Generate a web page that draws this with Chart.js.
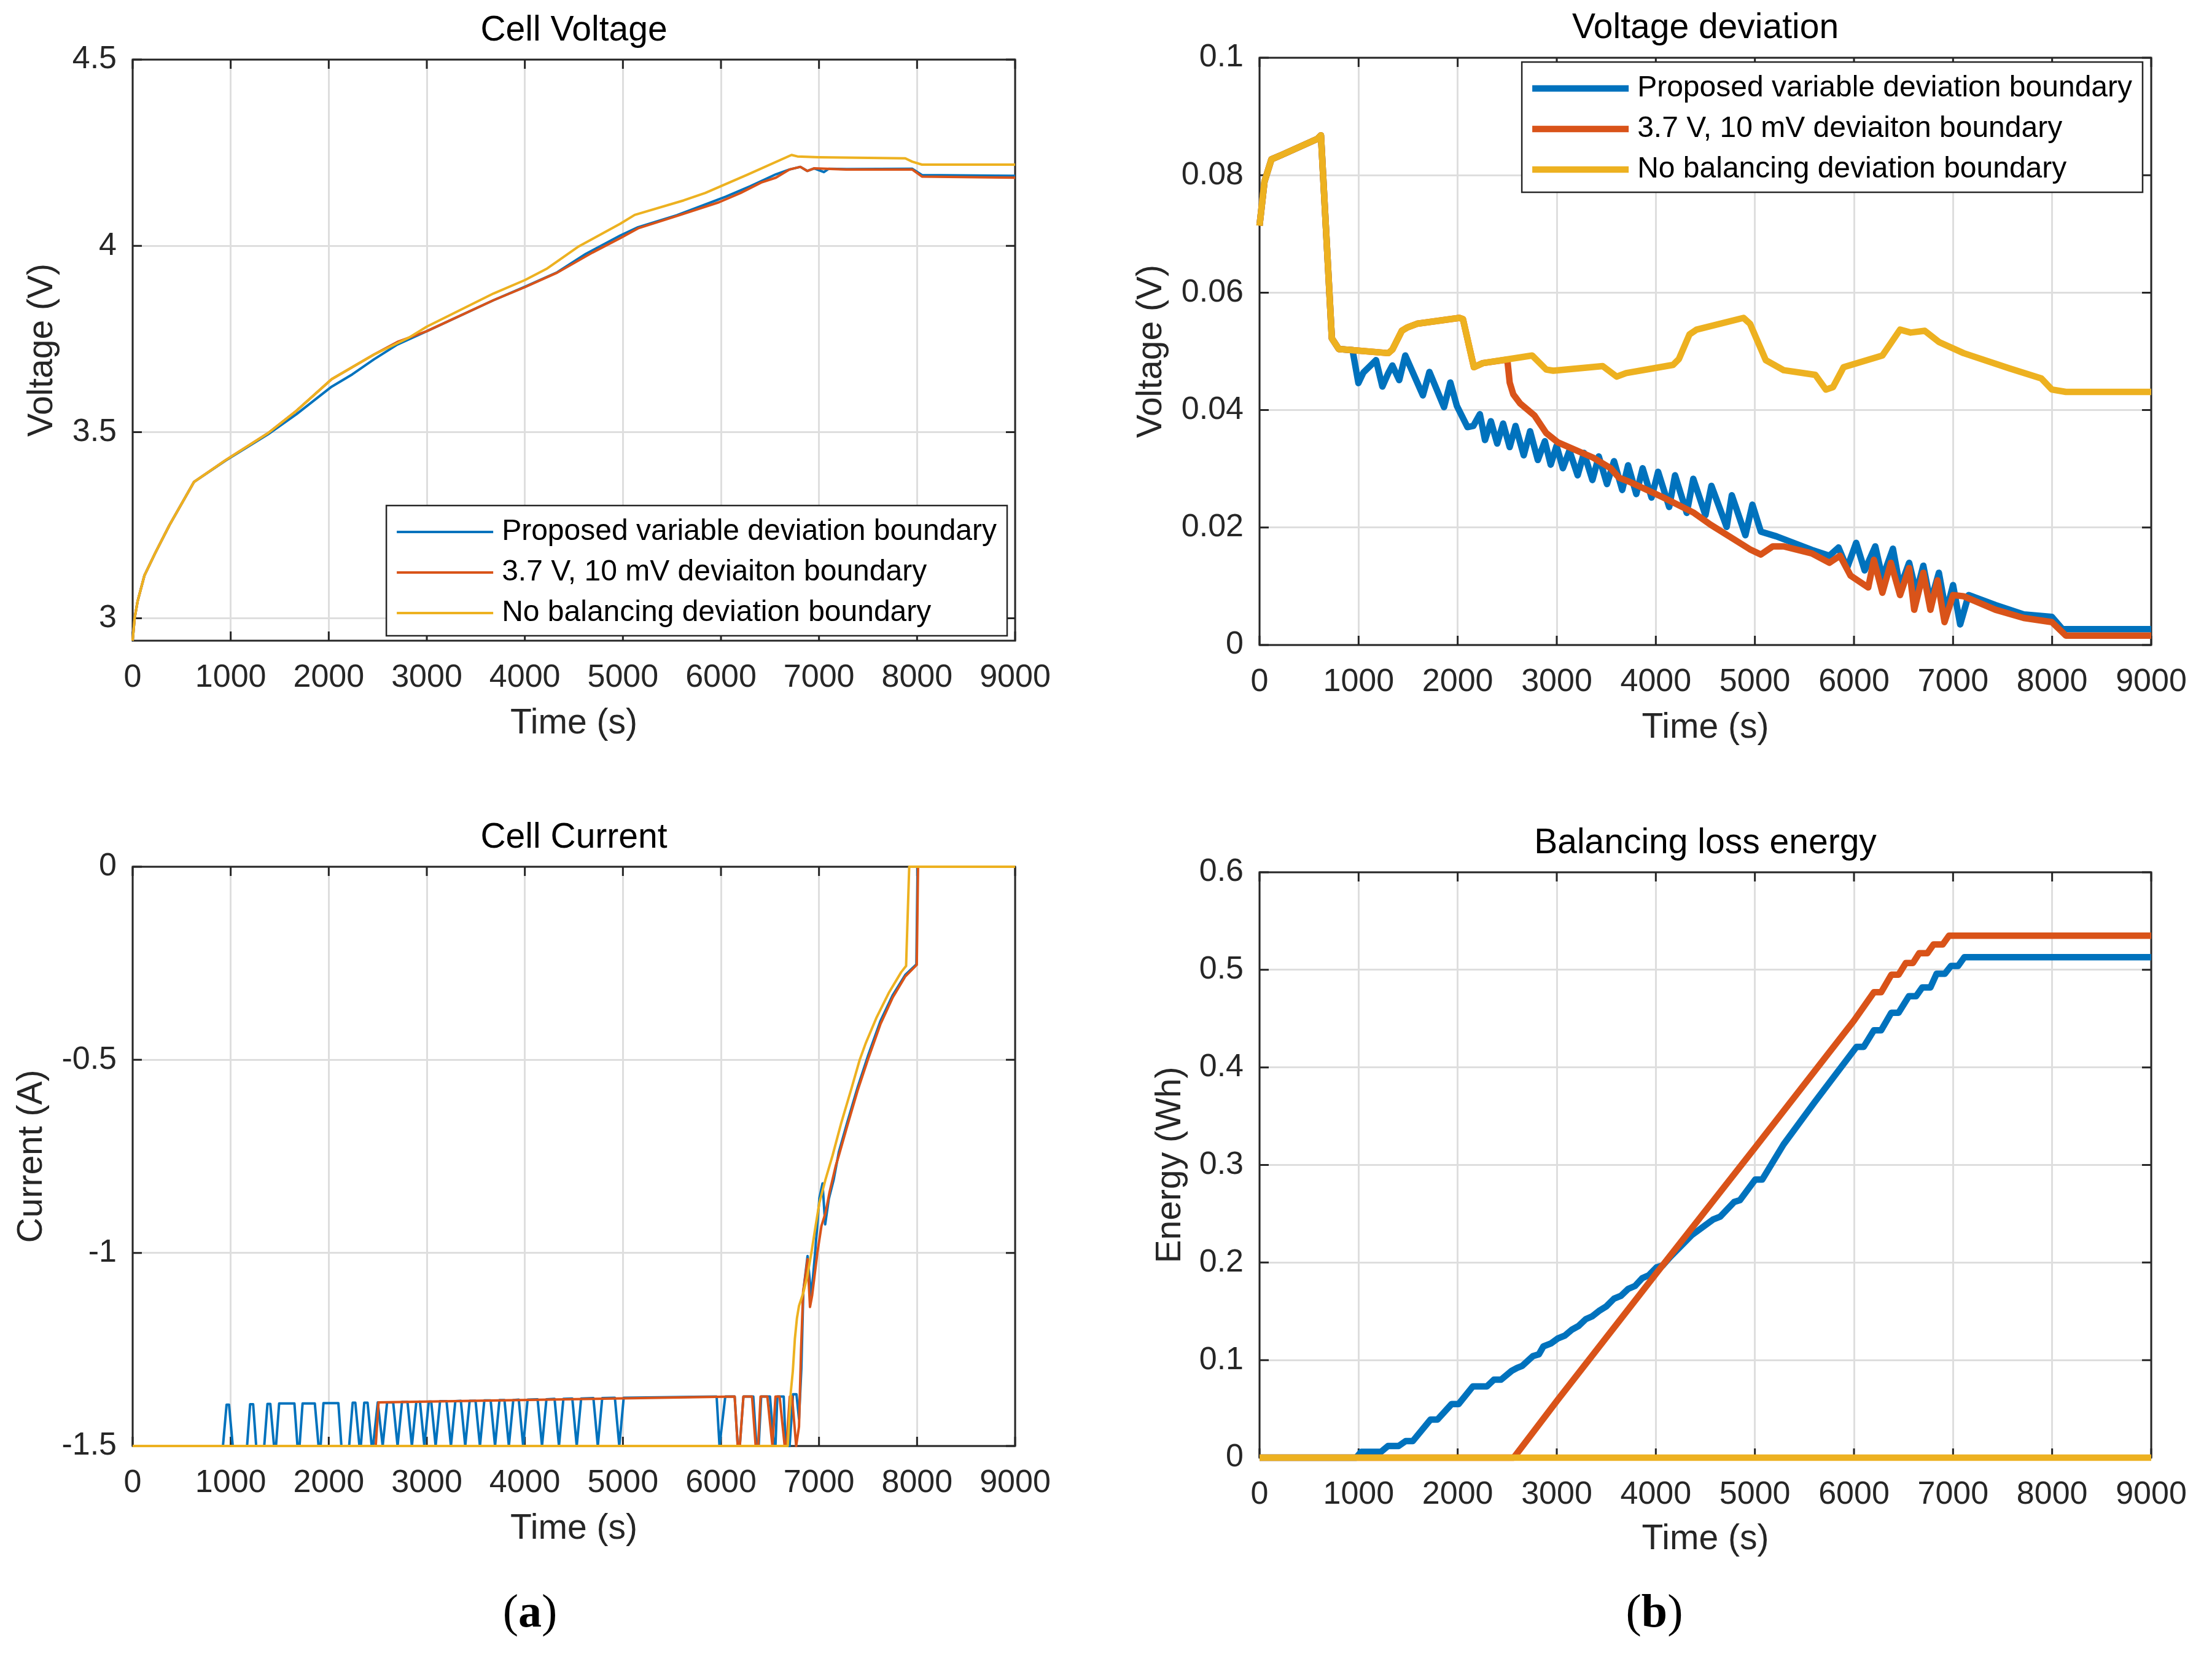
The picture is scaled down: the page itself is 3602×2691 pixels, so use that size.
<!DOCTYPE html>
<html>
<head>
<meta charset="utf-8">
<title>Balancing results</title>
<script src="https://cdn.jsdelivr.net/npm/chart.js@4.4.1/dist/chart.umd.min.js"></script>
<style>
  html, body { margin: 0; padding: 0; background: #fff; }
  #page { position: relative; width: 3602px; height: 2691px; overflow: hidden; }
  canvas { position: absolute; }
  .cap { position: absolute; font-family: 'Liberation Serif', 'DejaVu Serif', serif; font-size: 76px;
         line-height: 1; color: #000; transform: translate(-50%, -50%); }
</style>
</head>
<body>
<div id="page">
  <div class="cap" style="left:863px;top:2622px">(<b>a</b>)</div>
  <div class="cap" style="left:2694px;top:2622px">(<b>b</b>)</div>
</div>
<script>
// ---- shared ticks ----
const timeTicks = [0, 1000, 2000, 3000, 4000, 5000, 6000, 7000, 8000, 9000];
const timeTickLabels = ['0', '1000', '2000', '3000', '4000', '5000', '6000', '7000', '8000', '9000'];
const seriesLabels = ['Proposed variable deviation boundary', '3.7 V, 10 mV deviaiton boundary', 'No balancing deviation boundary'];

// ---- Cell Voltage (V) ----
const cvTicks = [3, 3.5, 4, 4.5];
const cvTickLabels = ['3', '3.5', '4', '4.5'];
const cvNoBalT = [0, 20, 50, 120, 230, 375, 625, 950, 1380, 1670, 2030, 2460, 2820, 3000, 3680, 4000, 4220, 4540, 4970, 5120, 5620, 5840, 6270, 6720, 6780, 7000, 7880, 7950, 8050, 9000];
const cvNoBalV = [2.94, 3.0, 3.045, 3.115, 3.175, 3.25, 3.366, 3.425, 3.497, 3.557, 3.642, 3.708, 3.754, 3.783, 3.872, 3.908, 3.938, 3.997, 4.059, 4.083, 4.122, 4.142, 4.191, 4.244, 4.240, 4.238, 4.235, 4.226, 4.218, 4.218];
const cvRefT = [2460, 2700, 3000, 3680, 4000, 4330, 4690, 4975, 5155, 5550, 5980, 6200, 6410, 6560, 6700, 6810, 6880, 6950, 7280, 7950, 8050, 9000];
const cvRefV = [3.708, 3.742, 3.771, 3.854, 3.889, 3.928, 3.982, 4.021, 4.047, 4.080, 4.117, 4.142, 4.170, 4.183, 4.205, 4.212, 4.201, 4.208, 4.205, 4.205, 4.186, 4.183];
const cvPropT = [950, 1380, 1670, 2030, 2240, 2460, 2700, 3000, 3680, 4000, 4330, 4620, 4975, 5155, 5550, 6050, 6300, 6560, 6700, 6810, 6880, 6950, 7050, 7100, 7280, 7950, 8050, 9000];
const cvPropV = [3.424, 3.494, 3.548, 3.622, 3.655, 3.695, 3.735, 3.771, 3.854, 3.890, 3.929, 3.978, 4.028, 4.050, 4.082, 4.132, 4.160, 4.192, 4.205, 4.212, 4.201, 4.208, 4.198, 4.207, 4.206, 4.207, 4.190, 4.188];

// ---- Voltage deviation (V) ----
const dvTicks = [0, 0.02, 0.04, 0.06, 0.08, 0.1];
const dvTickLabels = ['0', '0.02', '0.04', '0.06', '0.08', '0.1'];
const dvNoBalT = [0, 50, 120, 230, 585, 620, 730, 800, 940, 1300, 1341, 1436, 1495, 1590, 2017, 2053, 2164, 2254, 2752, 2894, 2965, 3463, 3605, 3700, 4174, 4233, 4340, 4411, 4885, 4951, 5110, 5290, 5610, 5716, 5788, 5895, 6287, 6465, 6572, 6715, 6857, 7106, 7570, 7890, 7997, 8139, 9000];
const dvNoBalV = [0.0714, 0.0789, 0.0827, 0.0835, 0.0862, 0.0868, 0.0522, 0.0504, 0.0502, 0.0497, 0.0503, 0.0535, 0.0541, 0.0547, 0.0557, 0.0555, 0.0473, 0.048, 0.0493, 0.0469, 0.0467, 0.0475, 0.0457, 0.0463, 0.0477, 0.0487, 0.0529, 0.0537, 0.0557, 0.0547, 0.0485, 0.0468, 0.046, 0.0435, 0.0439, 0.0473, 0.0493, 0.0537, 0.0532, 0.0535, 0.0516, 0.0497, 0.0471, 0.0454, 0.0435, 0.0431, 0.0431];
const dvPropT = [941, 998, 1048, 1176, 1240, 1297, 1341, 1410, 1471, 1649, 1715, 1862, 1926, 1992, 2099, 2158, 2224, 2276, 2335, 2399, 2459, 2525, 2584, 2667, 2731, 2809, 2880, 2939, 2998, 3062, 3128, 3211, 3275, 3360, 3424, 3507, 3578, 3661, 3720, 3803, 3867, 3957, 4023, 4135, 4194, 4312, 4378, 4501, 4561, 4715, 4767, 4904, 4975, 5060, 5217, 5574, 5752, 5844, 5930, 6022, 6108, 6215, 6287, 6393, 6465, 6557, 6629, 6700, 6772, 6857, 6929, 7000, 7072, 7157, 7428, 7713, 7997, 8104, 9000];
const dvPropV = [0.05, 0.0446, 0.0464, 0.0485, 0.044, 0.0462, 0.0476, 0.0451, 0.0493, 0.0425, 0.0465, 0.0405, 0.0447, 0.0407, 0.0371, 0.0373, 0.0393, 0.0349, 0.0381, 0.0343, 0.0377, 0.0337, 0.0373, 0.0323, 0.0364, 0.0315, 0.0347, 0.0307, 0.0339, 0.0301, 0.0331, 0.0289, 0.0327, 0.0281, 0.0321, 0.0274, 0.0313, 0.0264, 0.0306, 0.0257, 0.0301, 0.0251, 0.0295, 0.0235, 0.0289, 0.0225, 0.0283, 0.0221, 0.0271, 0.0201, 0.0255, 0.0187, 0.0239, 0.0193, 0.0185, 0.0162, 0.0152, 0.0166, 0.0131, 0.0174, 0.0127, 0.0168, 0.0114, 0.0164, 0.0098, 0.014, 0.0089, 0.0135, 0.0073, 0.0123, 0.0056, 0.0102, 0.0035, 0.0085, 0.0068, 0.0052, 0.0048, 0.0027, 0.0027];
const dvRefT = [2501, 2525, 2561, 2632, 2774, 2893, 3011, 3367, 3544, 3627, 3746, 4077, 4385, 4551, 4949, 5060, 5181, 5289, 5574, 5752, 5859, 5966, 6144, 6201, 6287, 6372, 6465, 6557, 6608, 6700, 6772, 6843, 6914, 7000, 7106, 7428, 7713, 7997, 8139, 9000];
const dvRefV = [0.0486, 0.0447, 0.0427, 0.0411, 0.0391, 0.0361, 0.0345, 0.0319, 0.0301, 0.0285, 0.0277, 0.0251, 0.0225, 0.0205, 0.0163, 0.0154, 0.0168, 0.0168, 0.0156, 0.014, 0.0152, 0.0118, 0.0098, 0.0145, 0.0089, 0.014, 0.0085, 0.0131, 0.006, 0.0123, 0.006, 0.011, 0.0039, 0.0085, 0.0083, 0.006, 0.0046, 0.0039, 0.0016, 0.0016];

// ---- Cell Current (A) ----
const ccTicks = [-1.5, -1, -0.5, 0];
const ccTickLabels = ['-1.5', '-1', '-0.5', '0'];
const ccPropT = [0, 921, 958, 983, 1021, 1167, 1198, 1229, 1260, 1342, 1375, 1404, 1442, 1462, 1494, 1650, 1681, 1702, 1733, 1858, 1896, 1917, 1946, 2098, 2129, 2208, 2244, 2271, 2313, 2327, 2362, 2396, 2438, 2452, 2500,
  2550, 2595, 2657, 2702, 2747, 2803, 2848, 2893, 2930, 2975, 3020, 3045, 3090, 3135, 3201, 3246, 3291, 3347, 3392, 3437, 3497, 3542, 3587, 3651, 3696, 3741, 3792, 3837, 3882, 3938, 3983, 4028, 4130, 4175, 4220, 4303, 4348, 4393, 4484, 4529, 4574, 4699, 4744, 4789, 4918, 4963, 5008,
  5956, 5985, 6044, 6140, 6171, 6192, 6229, 6330, 6362, 6385, 6410, 6500, 6540, 6556, 6575, 6640, 6660, 6700, 6735, 6770, 6796, 6820, 6840, 6883, 6921, 6960, 7004, 7036, 7063, 7100, 7150, 7203, 7287, 7393, 7499, 7626, 7753, 7880, 7993, 8005, 9000];
const ccPropV = [-1.5, -1.5, -1.393, -1.393, -1.5, -1.5, -1.392, -1.392, -1.5, -1.5, -1.391, -1.391, -1.5, -1.5, -1.39, -1.39, -1.5, -1.5, -1.39, -1.39, -1.5, -1.5, -1.389, -1.389, -1.5, -1.5, -1.388, -1.388, -1.5, -1.5, -1.388, -1.388, -1.5, -1.5, -1.387,
  -1.5, -1.387, -1.387, -1.5, -1.386, -1.386, -1.5, -1.386, -1.385, -1.5, -1.385, -1.385, -1.5, -1.384, -1.384, -1.5, -1.384, -1.383, -1.5, -1.383, -1.383, -1.5, -1.382, -1.382, -1.5, -1.381, -1.381, -1.5, -1.381, -1.38, -1.5, -1.38, -1.379, -1.5, -1.379, -1.378, -1.5, -1.378, -1.377, -1.5, -1.377, -1.376, -1.5, -1.376, -1.375, -1.5, -1.375,
  -1.372, -1.5, -1.372, -1.372, -1.5, -1.5, -1.372, -1.372, -1.5, -1.5, -1.372, -1.372, -1.5, -1.5, -1.372, -1.372, -1.5, -1.5, -1.366, -1.366, -1.43, -1.3, -1.1, -1.008, -1.114, -1.0, -0.858, -0.82, -0.926, -0.86, -0.81, -0.738, -0.663, -0.572, -0.49, -0.4, -0.332, -0.28, -0.253, 0, 0];
const ccRefT = [0, 2479, 2508, 6140, 6171, 6192, 6229, 6317, 6354, 6379, 6404, 6473, 6525, 6556, 6598, 6650, 6668, 6702, 6725, 6767, 6796, 6817, 6838, 6849, 6883, 6908, 6930, 6983, 7025, 7067, 7108, 7171, 7203, 7287, 7393, 7499, 7626, 7753, 7880, 7997, 8010, 9000];
const ccRefV = [-1.5, -1.5, -1.387, -1.372, -1.5, -1.5, -1.372, -1.372, -1.5, -1.5, -1.372, -1.372, -1.5, -1.372, -1.372, -1.5, -1.5, -1.372, -1.372, -1.5, -1.45, -1.25, -1.1, -1.083, -1.016, -1.14, -1.11, -1.0, -0.93, -0.896, -0.842, -0.774, -0.747, -0.672, -0.58, -0.499, -0.408, -0.338, -0.284, -0.254, 0, 0];
const ccNoBalT = [0, 6681, 6712, 6733, 6754, 6775, 6796, 6838, 6879, 6921, 6963, 7004, 7066, 7139, 7224, 7330, 7415, 7478, 7584, 7711, 7838, 7888, 7920, 9000];
const ccNoBalV = [-1.5, -1.5, -1.361, -1.306, -1.222, -1.169, -1.137, -1.105, -1.062, -1.002, -0.934, -0.87, -0.81, -0.747, -0.666, -0.575, -0.5, -0.456, -0.392, -0.327, -0.273, -0.257, 0, 0];

// ---- Balancing loss energy (Wh) ----
const beTicks = [0, 0.1, 0.2, 0.3, 0.4, 0.5, 0.6];
const beTickLabels = ['0', '0.1', '0.2', '0.3', '0.4', '0.5', '0.6'];
const bePropT = [0, 976, 1026, 1226, 1297, 1404, 1475, 1547, 1725, 1796, 1939, 2010, 2153, 2295, 2366, 2438, 2545, 2600, 2651, 2758, 2820, 2865, 2940, 3008, 3080, 3150, 3220, 3293, 3360, 3435, 3500, 3578, 3650, 3721, 3790, 3863, 3930, 4006, 4070, 4148, 4362, 4576, 4650, 4790, 4850, 5003, 5074, 5289, 5600, 6025, 6098, 6201, 6274, 6377, 6450, 6554, 6627, 6689, 6772, 6834, 6917, 6979, 7051, 7114, 9000];
const bePropV = [0, 0, 0.006, 0.006, 0.012, 0.012, 0.017, 0.017, 0.039, 0.039, 0.055, 0.055, 0.073, 0.073, 0.08, 0.08, 0.089, 0.092, 0.094, 0.104, 0.106, 0.114, 0.117, 0.122, 0.125, 0.131, 0.135, 0.142, 0.145, 0.151, 0.155, 0.163, 0.166, 0.173, 0.176, 0.184, 0.187, 0.195, 0.197, 0.206, 0.228, 0.244, 0.247, 0.262, 0.264, 0.285, 0.285, 0.321, 0.364, 0.421, 0.421, 0.438, 0.438, 0.456, 0.456, 0.473, 0.473, 0.482, 0.482, 0.496, 0.496, 0.504, 0.504, 0.513, 0.513];
const beRefT = [0, 2566, 3008, 4006, 5003, 6000, 6201, 6274, 6377, 6450, 6523, 6595, 6658, 6741, 6803, 6896, 6959, 9000];
const beRefV = [0, 0, 0.059, 0.189, 0.318, 0.448, 0.477, 0.477, 0.495, 0.495, 0.507, 0.507, 0.517, 0.517, 0.526, 0.526, 0.535, 0.535];
const beNoBalT = [0, 9000];
const beNoBalV = [0, 0];

// ---- look ----
const FONT = "'Liberation Sans', Arial, Helvetica, sans-serif";
const COLORS = ['#0072BD', '#D95319', '#EDB120'];
const AXIS_COLOR = '#262626';
const GRID_COLOR = '#dedede';
const TICK_SIZE = 52, LABEL_SIZE = 57, LEGEND_SIZE = 48;
const TICK_LEN = 15;

Chart.defaults.font.family = FONT;
Chart.defaults.color = AXIS_COLOR;

function points(ts, vs) {
  return ts.map((t, i) => ({ x: t, y: vs[i] }));
}

// series that follow another one until they split off from it
function withLead(baseT, baseV, ts, vs) {
  const lead = [];
  baseT.forEach((t, i) => { if (t < ts[0]) lead.push({ x: t, y: baseV[i] }); });
  return lead.concat(points(ts, vs));
}

const matlabAxes = {
  id: 'matlabAxes',
  beforeDatasetsDraw(chart) {
    const { ctx, chartArea: a, scales: { x, y } } = chart;
    ctx.save();
    ctx.strokeStyle = AXIS_COLOR;
    ctx.lineWidth = 3;
    ctx.beginPath();
    x.ticks.forEach(t => {
      const px = x.getPixelForValue(t.value);
      ctx.moveTo(px, a.bottom); ctx.lineTo(px, a.bottom - TICK_LEN);
      ctx.moveTo(px, a.top); ctx.lineTo(px, a.top + TICK_LEN);
    });
    y.ticks.forEach(t => {
      const py = y.getPixelForValue(t.value);
      ctx.moveTo(a.left, py); ctx.lineTo(a.left + TICK_LEN, py);
      ctx.moveTo(a.right, py); ctx.lineTo(a.right - TICK_LEN, py);
    });
    ctx.stroke();
    ctx.strokeRect(a.left, a.top, a.right - a.left, a.bottom - a.top);
    ctx.restore();
  },
  afterDraw(chart, args, opts) {
    const lg = opts.legend;
    if (!lg) return;
    const { ctx, chartArea: a } = chart;
    const sets = chart.data.datasets;
    ctx.save();
    ctx.font = LEGEND_SIZE + 'px ' + FONT;
    const textW = Math.max(...sets.map(d => ctx.measureText(d.label).width));
    const w = 188 + textW + 17, h = 212;
    const left = a.right - lg.dx - w;
    const top = lg.corner === 'top' ? a.top + lg.dy : a.bottom - lg.dy - h;
    ctx.fillStyle = '#fff';
    ctx.fillRect(left, top, w, h);
    ctx.strokeStyle = AXIS_COLOR;
    ctx.lineWidth = 2.5;
    ctx.strokeRect(left, top, w, h);
    sets.forEach((d, i) => {
      const cy = top + 43 + i * 66;
      ctx.strokeStyle = d.borderColor;
      ctx.lineWidth = d.borderWidth;
      ctx.beginPath();
      ctx.moveTo(left + 17, cy);
      ctx.lineTo(left + 174, cy);
      ctx.stroke();
      ctx.fillStyle = '#000';
      ctx.textBaseline = 'middle';
      ctx.fillText(d.label, left + 188, cy);
    });
    ctx.restore();
  }
};

function makeChart(c) {
  const canvas = document.createElement('canvas');
  canvas.width = c.w; canvas.height = c.h;
  canvas.style.left = c.left + 'px'; canvas.style.top = c.top + 'px';
  canvas.style.width = c.w + 'px'; canvas.style.height = c.h + 'px';
  document.getElementById('page').appendChild(canvas);

  const L = c.plot[0] - c.left, T = c.plot[1] - c.top, R = c.plot[2] - c.left, B = c.plot[3] - c.top;
  const line = LABEL_SIZE * 1.2;
  const titleTop = c.titleY - c.top - line / 2;

  const datasets = c.series.map((data, i) => ({
    label: seriesLabels[i],
    data: data,
    borderColor: COLORS[i],
    borderWidth: c.lineWidth,
    pointRadius: 0,
    fill: false,
    tension: 0,
    borderJoinStyle: 'round',
    clip: false,
    order: 2 - i
  }));

  new Chart(canvas, {
    type: 'line',
    data: { datasets },
    options: {
      responsive: false,
      animation: false,
      devicePixelRatio: 1,
      events: [],
      layout: { padding: { left: 0, top: 0, right: c.w - R, bottom: 0 } },
      plugins: {
        legend: { display: false },
        tooltip: { enabled: false },
        title: {
          display: true, text: c.title, color: '#000', fullSize: false,
          font: { size: LABEL_SIZE, weight: 'normal', lineHeight: 1.2 },
          padding: { top: titleTop, bottom: T - titleTop - line }
        },
        matlabAxes: { legend: c.legend }
      },
      scales: {
        x: {
          type: 'linear', min: 0, max: 9000,
          afterBuildTicks: s => { s.ticks = timeTicks.map(v => ({ value: v })); },
          afterFit: s => { s.height = c.h - B; },
          ticks: { autoSkip: false, maxRotation: 0, padding: 29, font: { size: TICK_SIZE },
                   callback: (v, i) => timeTickLabels[i] },
          grid: { color: GRID_COLOR, lineWidth: 3, drawTicks: false, tickLength: 0 },
          border: { display: false },
          title: { display: true, text: 'Time (s)', font: { size: LABEL_SIZE, lineHeight: 1.2 },
                   padding: { top: 0, bottom: c.h - (c.xTitleY - c.top) - line / 2 } }
        },
        y: {
          type: 'linear', min: c.yMin, max: c.yMax,
          afterBuildTicks: s => { s.ticks = c.yTicks.map(v => ({ value: v })); },
          afterFit: s => { s.width = L; },
          ticks: { autoSkip: false, padding: 26, font: { size: TICK_SIZE },
                   callback: (v, i) => c.yTickLabels[i] },
          grid: { color: GRID_COLOR, lineWidth: 3, drawTicks: false, tickLength: 0 },
          border: { display: false },
          title: { display: true, text: c.yTitle, font: { size: LABEL_SIZE, lineHeight: 1.2 },
                   padding: { top: c.yTitleX - c.left - line / 2, bottom: 0 } }
        }
      }
    },
    plugins: [matlabAxes]
  });
}

makeChart({
  left: 0, top: 0, w: 1780, h: 1260, plot: [216, 97, 1653, 1043],
  titleY: 50, yTitleX: 69, xTitleY: 1178,
  title: 'Cell Voltage', yTitle: 'Voltage (V)',
  yMin: 2.94, yMax: 4.5, yTicks: cvTicks, yTickLabels: cvTickLabels, lineWidth: 4,
  legend: { corner: 'bottom', dx: 13, dy: 8 },
  series: [
    withLead(cvNoBalT, cvNoBalV, cvPropT, cvPropV),
    withLead(cvNoBalT, cvNoBalV, cvRefT, cvRefV),
    points(cvNoBalT, cvNoBalV)
  ]
});

makeChart({
  left: 1800, top: 0, w: 1802, h: 1260, plot: [2051, 94, 3503, 1050],
  titleY: 46, yTitleX: 1875, xTitleY: 1185,
  title: 'Voltage deviation', yTitle: 'Voltage (V)',
  yMin: 0, yMax: 0.1, yTicks: dvTicks, yTickLabels: dvTickLabels, lineWidth: 10.5,
  legend: { corner: 'top', dx: 14, dy: 7 },
  series: [
    withLead(dvNoBalT, dvNoBalV, dvPropT, dvPropV),
    withLead(dvNoBalT, dvNoBalV, dvRefT, dvRefV),
    points(dvNoBalT, dvNoBalV)
  ]
});

makeChart({
  left: 0, top: 1300, w: 1780, h: 1391, plot: [216, 1411, 1653, 2354],
  titleY: 1364, yTitleX: 52, xTitleY: 2489,
  title: 'Cell Current', yTitle: 'Current (A)',
  yMin: -1.5, yMax: 0, yTicks: ccTicks, yTickLabels: ccTickLabels, lineWidth: 4,
  legend: null,
  series: [points(ccPropT, ccPropV), points(ccRefT, ccRefV), points(ccNoBalT, ccNoBalV)]
});

makeChart({
  left: 1800, top: 1300, w: 1802, h: 1391, plot: [2051, 1420, 3503, 2373],
  titleY: 1373, yTitleX: 1906, xTitleY: 2506,
  title: 'Balancing loss energy', yTitle: 'Energy (Wh)',
  yMin: 0, yMax: 0.6, yTicks: beTicks, yTickLabels: beTickLabels, lineWidth: 10.5,
  legend: null,
  series: [points(bePropT, bePropV), points(beRefT, beRefV), points(beNoBalT, beNoBalV)]
});
</script>
</body>
</html>
